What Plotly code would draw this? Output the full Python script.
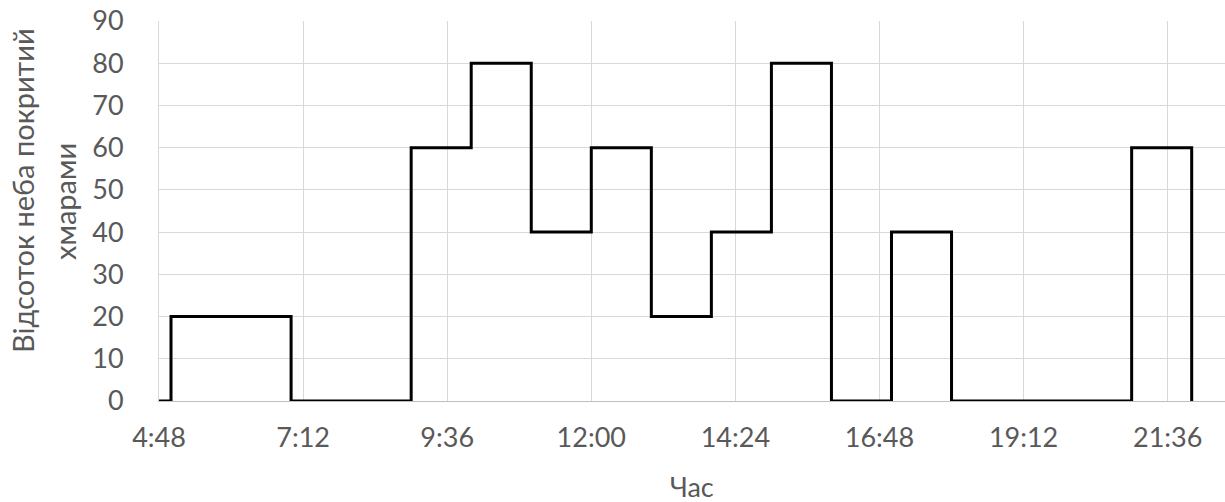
import plotly.graph_objects as go

# Hourly cloud cover observations (percent of sky covered)
times = ["4:00", "5:00", "6:00", "7:00", "8:00", "9:00", "10:00", "11:00",
         "12:00", "13:00", "14:00", "15:00", "16:00", "17:00", "18:00",
         "19:00", "20:00", "21:00", "22:00"]
cover = [0, 20, 20, 0, 0, 60, 80, 40, 60, 20, 40, 80, 0, 40, 0, 0, 0, 60, 0]

# Axis tick marks every 2:24 (0.1 day)
tick_labels = ["4:48", "7:12", "9:36", "12:00", "14:24", "16:48", "19:12", "21:36"]
y_ticks = [0, 10, 20, 30, 40, 50, 60, 70, 80, 90]

x_title = "Час"
y_title_lines = ["Відсоток неба покритий", "хмарами"]


def to_hours(s):
    h, m = s.split(":")
    return int(h) + int(m) / 60.0


x_hours = [to_hours(t) for t in times]
tick_hours = [to_hours(t) for t in tick_labels]

FONT = "Lato"
SIZE = 27
GREY = "#595959"
GRID = "#d9d9d9"

fig = go.Figure()
fig.add_trace(go.Scatter(
    x=x_hours, y=cover, mode="lines",
    line=dict(color="black", width=3, shape="hv"),
    showlegend=False, hoverinfo="skip",
))

W, H = 1225, 502
left, top, bottom = 159, 21, 101
px_per_hour = 60.04
x_end = 4.8 + (W - left) / px_per_hour


def title_font(size=SIZE):
    return dict(family=FONT, size=size, color=GREY)


annotations = [
    dict(text=x_title, xref="paper", yref="paper", x=0.5, y=0,
         yshift=-85, xanchor="center", yanchor="middle",
         showarrow=False, font=title_font()),
]
# two-line vertical axis title, each line placed on its own
for line, x_px, y_px in zip(y_title_lines, [22, 64], [191, 202]):
    annotations.append(dict(
        text=line, textangle=-90, xref="paper", yref="paper",
        x=0, xshift=x_px - left, y=1, yshift=-(y_px - top),
        xanchor="center", yanchor="middle", showarrow=False,
        font=title_font(29),
    ))

fig.update_layout(
    width=W, height=H,
    margin=dict(l=left, r=0, t=top, b=bottom),
    paper_bgcolor="white", plot_bgcolor="white",
    font=dict(family=FONT, size=SIZE, color=GREY),
    xaxis=dict(
        range=[4.8, x_end], tickvals=tick_hours, ticktext=tick_labels,
        showgrid=True, gridcolor=GRID, gridwidth=1,
        showline=True, linecolor="#bfbfbf", linewidth=1,
        zeroline=False, ticks="", ticklabelstandoff=13,
        tickfont=dict(family=FONT, size=SIZE, color=GREY),
    ),
    yaxis=dict(
        range=[0, 90], tickvals=y_ticks,
        showgrid=True, gridcolor=GRID, gridwidth=1,
        showline=True, linecolor=GRID, linewidth=1,
        zeroline=False, ticks="", ticklabelstandoff=29,
        tickfont=dict(family=FONT, size=SIZE, color=GREY),
    ),
    annotations=annotations,
)

fig.write_html("out.html")
